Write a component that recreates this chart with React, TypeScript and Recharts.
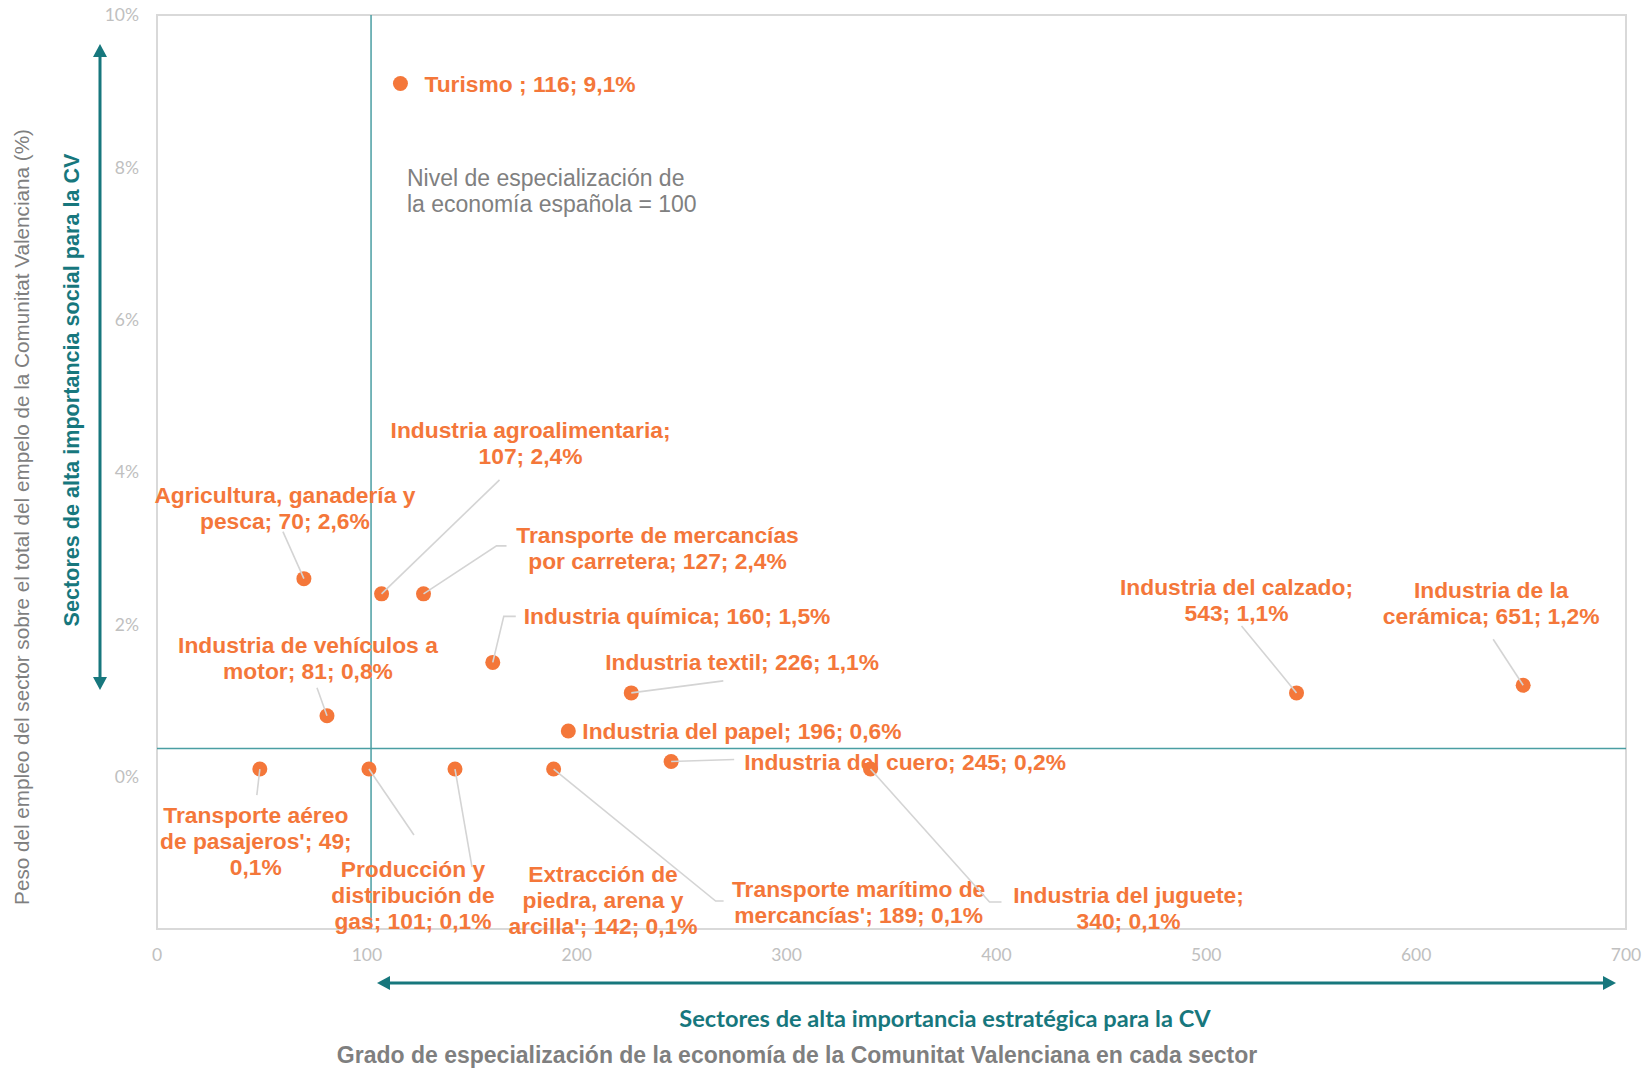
import React from "react";
import { ScatterChart, Scatter, XAxis, YAxis, ReferenceLine, ReferenceArea } from "recharts";

// sector names, specialisation index (Spain = 100) and share of CV employment (%)
const SECTORS = [
  "Turismo",
  "Industria agroalimentaria",
  "Agricultura, ganadería y pesca",
  "Transporte de mercancías por carretera",
  "Industria química",
  "Industria de vehículos a motor",
  "Industria textil",
  "Industria del papel",
  "Industria del cuero",
  "Industria del calzado",
  "Industria de la cerámica",
  "Transporte aéreo de pasajeros",
  "Producción y distribución de gas",
  "Extracción de piedra, arena y arcilla",
  "Transporte marítimo de mercancías",
  "Industria del juguete",
];
const SPECIALIZATION = [116, 107, 70, 127, 160, 81, 226, 196, 245, 543, 651, 49, 101, 142, 189, 340];
const EMPLOYMENT_SHARE = [9.1, 2.4, 2.6, 2.4, 1.5, 0.8, 1.1, 0.6, 0.2, 1.1, 1.2, 0.1, 0.1, 0.1, 0.1, 0.1];

// data label text as wrapped in the original
const LABEL_LINES = [
  ["Turismo ; 116; 9,1%"],
  ["Industria agroalimentaria;", "107; 2,4%"],
  ["Agricultura, ganadería y", "pesca; 70; 2,6%"],
  ["Transporte de mercancías", "por carretera; 127; 2,4%"],
  ["Industria química; 160; 1,5%"],
  ["Industria de vehículos a", "motor; 81; 0,8%"],
  ["Industria textil; 226; 1,1%"],
  ["Industria del papel; 196; 0,6%"],
  ["Industria del cuero; 245; 0,2%"],
  ["Industria del calzado;", "543; 1,1%"],
  ["Industria de la", "cerámica; 651; 1,2%"],
  ["Transporte aéreo", "de pasajeros'; 49;", "0,1%"],
  ["Producción y", "distribución de", "gas; 101; 0,1%"],
  ["Extracción de", "piedra, arena y", "arcilla'; 142; 0,1%"],
  ["Transporte marítimo de", "mercancías'; 189; 0,1%"],
  ["Industria del juguete;", "340; 0,1%"],
];

const X_TICKS = [0, 100, 200, 300, 400, 500, 600, 700];
const Y_TICKS = [0, 2, 4, 6, 8, 10];
const SPAIN_LEVEL = 102;
const SHARE_LINE = 0.37;

// label placement relative to each point (pixels)
const LABEL_LAYOUT = [
  { anchor: "start", dx: 24, dy: 0, leader: [] },
  { anchor: "middle", dx: 149, dy: -164, leader: [[118, -114]] },
  { anchor: "middle", dx: -19, dy: -84, leader: [[-21, -47]] },
  { anchor: "middle", dx: 234, dy: -59, leader: [[73, -48], [83, -48]] },
  { anchor: "start", dx: 31, dy: -46, leader: [[11, -46], [23, -46]] },
  { anchor: "middle", dx: -19, dy: -71, leader: [[-10, -28]] },
  { anchor: "start", dx: -26, dy: -31, leader: [[92, -12]] },
  { anchor: "start", dx: 14, dy: 0, leader: [] },
  { anchor: "start", dx: 73, dy: 1, leader: [[63, -2]] },
  { anchor: "middle", dx: -60, dy: -106, leader: [[-55, -67]] },
  { anchor: "middle", dx: -32, dy: -95, leader: [[-30, -46]] },
  { anchor: "middle", dx: -4, dy: 46, leader: [[-3, 26]] },
  { anchor: "middle", dx: 44, dy: 100, leader: [[45, 66]] },
  { anchor: "middle", dx: 148, dy: 105, leader: [[17, 98]] },
  { anchor: "middle", dx: 305, dy: 120, leader: [[162, 132], [170, 132]] },
  { anchor: "middle", dx: 258, dy: 126, leader: [[119, 133], [131, 133]] },
];

const ORANGE = "#f4773a";
const TEAL = "#17777d";
const LABEL_FONT = "'Liberation Sans', Arial, sans-serif";

const data = SECTORS.map((name, i) => ({
  id: i,
  name,
  x: SPECIALIZATION[i],
  y: EMPLOYMENT_SHARE[i],
}));

const PointWithLabel = (props: any) => {
  const { cx, cy, payload } = props;
  if (cx == null || cy == null || !payload) return null;
  const lay = LABEL_LAYOUT[payload.id];
  const lines = LABEL_LINES[payload.id];
  const pts = [[0, 0], ...lay.leader].map(([dx, dy]) => `${cx + dx},${cy + dy}`).join(" ");
  return (
    <g>
      <circle cx={cx} cy={cy} r={7.5} fill={ORANGE} />
      {lay.leader.length > 0 && (
        <polyline points={pts} fill="none" stroke="#d4d4d4" strokeWidth={1.6} />
      )}
      <text
        textAnchor={lay.anchor}
        fill={ORANGE}
        fontFamily={LABEL_FONT}
        fontWeight="bold"
        fontSize={22.8}
      >
        {lines.map((t, k) => (
          <tspan key={k} x={cx + lay.dx} y={cy + lay.dy + k * 26} dominantBaseline="central">
            {t}
          </tspan>
        ))}
      </text>
    </g>
  );
};

const ArrowHead = ({ x, y, dir }: { x: number; y: number; dir: string }) => {
  const s = 7;
  const l = 13;
  let p = "";
  if (dir === "up") p = `${x},${y} ${x - s},${y + l} ${x + s},${y + l}`;
  if (dir === "down") p = `${x},${y} ${x - s},${y - l} ${x + s},${y - l}`;
  if (dir === "left") p = `${x},${y} ${x + l},${y - s} ${x + l},${y + s}`;
  if (dir === "right") p = `${x},${y} ${x - l},${y - s} ${x - l},${y + s}`;
  return <polygon points={p} fill={TEAL} />;
};

export default function App() {
  return (
    <div style={{ position: "absolute", left: 0, top: 0, width: 1644, height: 1068, background: "#fff" }}>
      <ScatterChart
        width={1644}
        height={1068}
        margin={{ top: 15, right: 18, bottom: 99, left: 97 }}
      >
        <XAxis
          type="number"
          dataKey="x"
          domain={[0, 700]}
          ticks={X_TICKS}
          height={40}
          tickLine={false}
          axisLine={false}
          tickSize={0}
          tickMargin={20}
          tick={{ fill: "#c0c0c0", fontSize: 17.5, fontFamily: "Lato, sans-serif" }}
        />
        <YAxis
          type="number"
          dataKey="y"
          domain={[-2, 10]}
          ticks={Y_TICKS}
          width={60}
          tickLine={false}
          axisLine={false}
          tickSize={0}
          tickMargin={18}
          tickFormatter={(v: number) => `${v}%`}
          tick={{ fill: "#c0c0c0", fontSize: 17.5, fontFamily: "Lato, sans-serif" }}
        />
        <ReferenceArea x1={0} x2={700} y1={-2} y2={10} fill="none" stroke="#d9d9d9" strokeWidth={2} />
        <ReferenceLine x={SPAIN_LEVEL} stroke="#4a9ea3" strokeWidth={1.5} />
        <ReferenceLine y={SHARE_LINE} stroke="#4a9ea3" strokeWidth={1.5} />
        <Scatter data={data} shape={PointWithLabel} isAnimationActive={false} />
      </ScatterChart>

      <svg
        width={1644}
        height={1068}
        style={{ position: "absolute", left: 0, top: 0, pointerEvents: "none" }}
      >
        <text x={407} y={178} fill="#808080" fontFamily={LABEL_FONT} fontSize={23} dominantBaseline="central">
          Nivel de especialización de
        </text>
        <text x={407} y={204} fill="#808080" fontFamily={LABEL_FONT} fontSize={23} dominantBaseline="central">
          la economía española = 100
        </text>

        {/* vertical arrow and social importance caption */}
        <line x1={100} y1={54} x2={100} y2={680} stroke={TEAL} strokeWidth={3} />
        <ArrowHead x={100} y={44} dir="up" />
        <ArrowHead x={100} y={690} dir="down" />
        <text
          transform="translate(71,390) rotate(-90)"
          textAnchor="middle"
          dominantBaseline="central"
          fill={TEAL}
          fontFamily={LABEL_FONT}
          fontWeight="bold"
          fontSize={21.6}
        >
          Sectores de alta importancia social para la CV
        </text>
        <text
          transform="translate(21,517) rotate(-90)"
          textAnchor="middle"
          dominantBaseline="central"
          fill="#7f7f7f"
          fontFamily={LABEL_FONT}
          fontSize={20.7}
        >
          Peso del empleo del sector sobre el total del empelo de la Comunitat Valenciana (%)
        </text>

        {/* horizontal arrow and strategic importance caption */}
        <line x1={387} y1={983} x2={1606} y2={983} stroke={TEAL} strokeWidth={3} />
        <ArrowHead x={377} y={983} dir="left" />
        <ArrowHead x={1616} y={983} dir="right" />
        <text
          x={945}
          y={1018}
          textAnchor="middle"
          dominantBaseline="central"
          fill={TEAL}
          fontFamily="Lato, sans-serif"
          fontWeight="bold"
          fontSize={23.6}
        >
          Sectores de alta importancia estratégica para la CV
        </text>
        <text
          x={797}
          y={1055}
          textAnchor="middle"
          dominantBaseline="central"
          fill="#7f7f7f"
          fontFamily={LABEL_FONT}
          fontWeight="bold"
          fontSize={23}
        >
          Grado de especialización de la economía de la Comunitat Valenciana en cada sector
        </text>
      </svg>
    </div>
  );
}
